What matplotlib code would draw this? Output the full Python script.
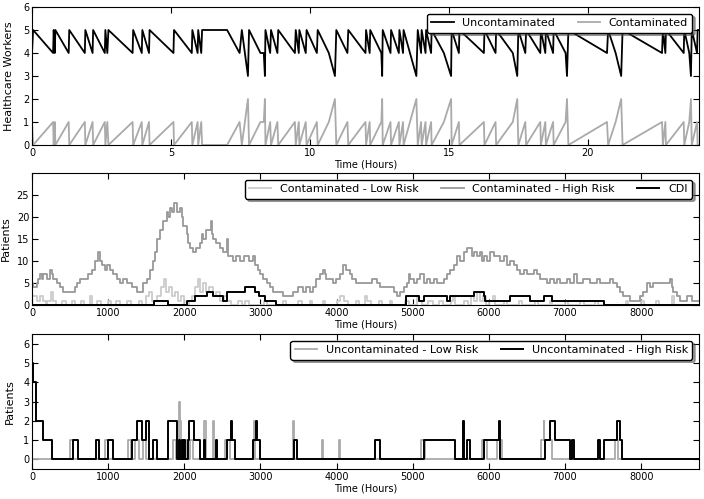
import matplotlib
matplotlib.use("Agg")
import matplotlib.pyplot as plt

# healthcare workers, one day (hours), contaminated count; total staff = 5
hcw_total = 5
hcw_time = [0.00, 0.04, 0.76, 0.78, 0.82, 0.84, 1.32, 1.34, 1.90, 1.92, 2.18, 2.20,
            2.62, 2.64, 2.71, 2.75, 3.62, 3.64, 3.95, 3.97, 4.21, 4.23, 5.09, 5.11,
            5.75, 5.77, 5.96, 5.98, 6.09, 6.12, 7.02, 7.47, 7.55, 7.77, 7.81, 8.22,
            8.34, 8.38, 8.40, 8.57, 8.60, 8.83, 8.86, 9.46, 9.49, 9.60, 9.62, 9.85,
            9.88, 10.25, 10.28, 10.68, 10.90, 10.95, 11.35, 11.38, 12.00, 12.02,
            12.15, 12.17, 12.57, 12.60, 12.62, 12.90, 12.92, 13.20, 13.22, 13.35,
            13.37, 13.83, 13.88, 14.00, 14.02, 14.16, 14.18, 14.36, 14.38, 14.82,
            15.08, 15.10, 15.36, 15.38, 16.26, 16.28, 16.68, 16.70, 17.30, 17.46,
            17.50, 17.75, 17.78, 18.29, 18.31, 18.47, 18.49, 18.75, 18.77, 19.20,
            19.25, 19.30, 20.69, 20.73, 21.00, 21.20, 21.25, 22.67, 22.70, 22.79,
            22.81, 23.45, 23.47, 23.65, 23.71, 23.74, 23.93, 23.95, 24.00]
hcw_contaminated = [1, 0, 1, 0, 1, 0, 1, 0, 1, 0, 1, 0,
                    1, 0, 1, 0, 1, 0, 1, 0, 1, 0, 1, 0,
                    1, 0, 1, 0, 1, 0, 0, 1, 0, 2, 0, 1,
                    1, 2, 0, 1, 0, 1, 0, 1, 0, 1, 0, 1,
                    0, 1, 0, 1, 2, 0, 1, 0, 1, 0,
                    1, 0, 1, 2, 0, 1, 0, 1, 0, 1,
                    0, 2, 0, 1, 0, 1, 0, 1, 0, 1,
                    2, 0, 1, 0, 1, 0, 1, 0, 1, 2,
                    0, 1, 0, 1, 0, 1, 0, 1, 0, 1,
                    2, 0, 1, 0, 1, 2, 0, 1, 0, 1,
                    0, 1, 0, 1, 2, 0, 1, 0, 0]
hcw_uncontaminated = [hcw_total - c for c in hcw_contaminated]

# patients over one year (hours)
high_time = [0, 17, 61, 83, 105, 127, 149, 192, 236, 258, 280, 324, 367, 411, 564,
             586, 630, 739, 783, 827, 871, 892, 914, 958, 990, 1024, 1067, 1111,
             1155, 1200, 1250, 1308, 1374, 1461, 1505, 1549, 1592, 1614, 1636,
             1680, 1724, 1767, 1790, 1811, 1840, 1864, 1899, 1942, 1965, 1986,
             2030, 2050, 2073, 2117, 2160, 2205, 2230, 2248, 2280, 2345, 2360,
             2380, 2423, 2467, 2511, 2560, 2580, 2642, 2680, 2730, 2780, 2850,
             2905, 2927, 2970, 3000, 3036, 3080, 3123, 3167, 3298, 3430, 3500,
             3560, 3600, 3648, 3692, 3736, 3780, 3823, 3850, 3867, 3955, 3990,
             4042, 4086, 4120, 4173, 4200, 4261, 4466, 4531, 4575, 4750, 4794,
             4838, 4881, 4925, 4947, 4969, 5012, 5056, 5100, 5144, 5188, 5231,
             5275, 5319, 5406, 5450, 5494, 5537, 5581, 5625, 5669, 5712, 5778,
             5800, 5844, 5887, 5909, 5931, 5975, 6019, 6062, 6150, 6193, 6237,
             6281, 6325, 6368, 6412, 6456, 6500, 6587, 6631, 6675, 6762, 6806,
             6850, 6893, 6937, 7025, 7068, 7112, 7156, 7243, 7331, 7418, 7462,
             7593, 7637, 7681, 7724, 7768, 7856, 7987, 8031, 8075, 8118, 8162,
             8380, 8402, 8424, 8468, 8512, 8600, 8665, 8760]
high_vals = [5, 4, 5, 6, 7, 6, 7, 6, 8, 7, 6, 5, 4, 3, 4,
             5, 6, 7, 8, 10, 12, 10, 9, 8, 9, 8, 7, 6,
             5, 6, 5, 4, 3, 5, 6, 8, 10, 12, 15,
             17, 19, 21, 20, 22, 21, 23, 21, 22, 20, 18,
             16, 14, 13, 12, 13, 14, 16, 15, 17, 19, 16,
             15, 14, 13, 12, 15, 11, 10, 11, 10, 11, 10,
             11, 9, 8, 7, 6, 5, 4, 3, 2, 3, 4,
             3, 4, 3, 4, 6, 7, 8, 7, 6, 5, 6,
             7, 9, 8, 7, 6, 5, 6, 5, 4, 3, 2,
             3, 4, 5, 7, 6, 5, 6, 7, 5, 6, 5,
             6, 5, 6, 7, 8, 9, 11, 10, 12, 13, 11,
             12, 11, 12, 10, 11, 10, 12, 11, 10, 11, 9,
             10, 9, 8, 7, 8, 7, 8, 7, 6, 5, 6,
             5, 6, 5, 6, 5, 7, 5, 6, 5, 6, 5,
             6, 5, 4, 3, 2, 1, 2, 3, 5, 4, 5,
             6, 4, 3, 2, 1, 2, 1, 1]

low_time = [0, 60, 100, 140, 180, 200, 250, 270, 320, 400, 450, 520, 560, 640, 680,
            760, 790, 850, 900, 1000, 1040, 1100, 1150, 1250, 1300, 1400, 1450,
            1500, 1540, 1580, 1640, 1700, 1730, 1760, 1800, 1840, 1880, 1920, 1960,
            2000, 2060, 2100, 2140, 2180, 2210, 2250, 2290, 2330, 2380, 2420, 2470,
            2520, 2560, 2620, 2700, 2760, 2800, 2850, 3050, 3080, 3300, 3330, 3500,
            3540, 3650, 3680, 3820, 3850, 4000, 4050, 4100, 4150, 4250, 4300, 4380,
            4400, 4450, 4560, 4600, 4700, 4730, 4900, 4950, 5050, 5080, 5120, 5200,
            5260, 5350, 5400, 5500, 5530, 5560, 5680, 5720, 5760, 5800, 5850, 5880,
            5920, 5960, 6000, 6050, 6080, 6200, 6240, 6400, 6430, 6600, 6640, 6800,
            6830, 7000, 7040, 7200, 7250, 7400, 7430, 7800, 7830, 8000, 8040, 8200,
            8230, 8400, 8430, 8760]
low_vals = [2, 1, 2, 1, 0, 1, 3, 1, 0, 1, 0, 1, 0, 1, 0,
            2, 0, 1, 0, 1, 0, 1, 0, 1, 0, 1, 0,
            2, 3, 1, 2, 4, 6, 3, 4, 2, 3, 1, 2,
            0, 1, 2, 4, 6, 3, 5, 3, 4, 2, 3, 1,
            2, 1, 0, 1, 0, 1, 0, 1, 0, 1, 0, 1,
            0, 1, 0, 1, 0, 1, 2, 1, 0, 1, 0, 2,
            1, 0, 1, 0, 1, 0, 1, 0, 2, 1, 0, 1,
            0, 1, 0, 1, 2, 0, 1, 0, 2, 1, 3, 1,
            2, 0, 1, 2, 0, 1, 0, 1, 0, 1, 0, 1,
            0, 1, 0, 1, 0, 1, 0, 1, 0, 1, 0, 1,
            0, 2, 0, 0]

cdi_time = [0, 1601, 1789, 2030, 2139, 2292, 2380, 2502, 2555, 2795, 2927, 2983,
            3058, 3202, 4916, 5078, 5144, 5450, 5485, 5800, 5931, 5953, 6281, 6543,
            6718, 6828, 7506, 8760]
cdi_vals = [0, 1, 0, 1, 2, 3, 2, 1, 3, 4, 3, 2,
            1, 0, 2, 1, 2, 1, 2, 3, 2, 1, 2, 1,
            2, 1, 0, 0]

unc_high_time = [0, 17, 52, 140, 258, 542, 599, 840, 875, 1002, 1067, 1308, 1374,
                 1439, 1492, 1535, 1592, 1636, 1780, 1899, 1935, 1950, 1970, 1985,
                 2000, 2015, 2050, 2065, 2130, 2205, 2257, 2267, 2423, 2433, 2555,
                 2611, 2625, 2664, 2905, 2940, 2960, 2992, 3438, 3486, 4510, 4575,
                 5144, 5559, 5656, 5677, 5712, 5747, 5940, 6130, 6141, 6740, 6797,
                 6871, 7068, 7090, 7112, 7440, 7462, 7514, 7681, 7716, 7746, 8760]
unc_high_vals = [5, 4, 2, 1, 0, 1, 0, 1, 0, 1, 0, 1, 2,
                 1, 2, 0, 1, 0, 2, 0, 1, 0, 1, 0,
                 1, 0, 1, 2, 1, 0, 1, 0, 1, 0, 1,
                 2, 1, 0, 1, 2, 1, 0, 1, 0, 1, 0,
                 1, 0, 2, 0, 1, 0, 1, 2, 0, 1, 2,
                 1, 0, 1, 0, 1, 0, 1, 2, 1, 0, 0]

unc_low_time = [0, 500, 540, 958, 1002, 1260, 1300, 1350, 1400, 1460, 1500, 1855,
                1890, 1925, 1940, 1955, 2020, 2050, 2070, 2110, 2265, 2280, 2375,
                2390, 2530, 2600, 2920, 2935, 3425, 3440, 3810, 3820, 4030, 4045,
                5109, 5166, 5909, 5975, 6106, 6172, 6690, 6718, 6730, 6830, 7660,
                7700, 8760]
unc_low_vals = [0, 1, 0, 1, 0, 1, 0, 1, 0, 1, 0, 1,
                0, 3, 2, 0, 1, 0, 1, 0, 2, 0, 2,
                0, 1, 0, 2, 0, 2, 0, 1, 0, 1, 0,
                1, 0, 1, 0, 1, 0, 1, 2, 1, 0, 1,
                0, 0]

plt.rcParams['font.family'] = 'DejaVu Sans'

fig = plt.figure(figsize=(7.04, 4.99), dpi=100)
W, H = 704.0, 499.0


def make_axes(top, bottom):
    return fig.add_axes([32 / W, 1 - bottom / H, (699 - 32) / W, (bottom - top) / H])


def style(ax, ylabel, ylab_x):
    ax.tick_params(direction='in', top=True, right=True, length=4, labelsize=7)
    ax.tick_params(axis='x', pad=2)
    ax.tick_params(axis='y', pad=2)
    ax.set_xlabel('Time (Hours)', fontsize=7, labelpad=1)
    ax.set_ylabel(ylabel, fontsize=8)
    ax.yaxis.set_label_coords(ylab_x, 0.5)


def legend(ax, ncol):
    leg = ax.legend(loc='upper right', ncol=ncol, fontsize=8, shadow=True,
                    fancybox=True, borderaxespad=0.6)
    leg.get_frame().set_edgecolor('black')
    leg.get_frame().set_linewidth(1.0)
    leg.set_zorder(10)


ax1 = make_axes(7, 145)
ax1.plot(hcw_time, hcw_uncontaminated, color='black', lw=1.3, label='Uncontaminated')
ax1.plot(hcw_time, hcw_contaminated, color='#aaaaaa', lw=1.3, label='Contaminated')
ax1.set_xlim(0, 24)
ax1.set_ylim(0, 6)
ax1.set_xticks([0, 5, 10, 15, 20])
style(ax1, 'Healthcare Workers', -0.027)
legend(ax1, 2)

ax2 = make_axes(173, 305)
ax2.step(low_time, low_vals, where='post', color='#cccccc', lw=1.3,
         label='Contaminated - Low Risk')
ax2.step(high_time, high_vals, where='post', color='#999999', lw=1.3,
         label='Contaminated - High Risk')
ax2.step(cdi_time, cdi_vals, where='post', color='black', lw=1.4, label='CDI')
ax2.set_xlim(0, 8760)
ax2.set_ylim(0, 29.9)
ax2.set_yticks([0, 5, 10, 15, 20, 25])
style(ax2, 'Patients', -0.031)
legend(ax2, 3)

ax3 = make_axes(334, 469)
ax3.step(unc_low_time, unc_low_vals, where='post', color='#aaaaaa', lw=1.3,
         label='Uncontaminated - Low Risk')
ax3.step(unc_high_time, unc_high_vals, where='post', color='black', lw=1.4,
         label='Uncontaminated - High Risk')
ax3.set_xlim(0, 8760)
ax3.set_ylim(-0.5, 6.5)
ax3.set_yticks([0, 1, 2, 3, 4, 5, 6])
style(ax3, 'Patients', -0.025)
legend(ax3, 2)

fig.savefig('out.png', dpi=100)
